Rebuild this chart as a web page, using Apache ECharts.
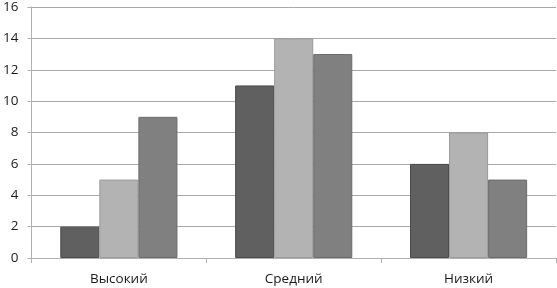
<!DOCTYPE html>
<html>
<head>
<meta charset="utf-8">
<script src="https://cdn.jsdelivr.net/npm/echarts@6/dist/echarts.min.js"></script>
<style>
  html, body { margin: 0; padding: 0; background: #fff; }
  #chart { width: 557px; height: 288px; }
</style>
</head>
<body>
<div id="chart"></div>
<script>
// categories and values
const categories = ['Высокий', 'Средний', 'Низкий']
const series1 = [2, 11, 6]
const series2 = [5, 14, 8]
const series3 = [9, 13, 5]

const colors = ['#606060', '#b3b3b3', '#808080']
const borders = ['#4a4a4a', '#9a9a9a', '#6c6c6c']

const chart = echarts.init(document.getElementById('chart'))

chart.setOption({
  animation: false,
  textStyle: { fontFamily: 'Open Sans' },
  grid: { left: 29, right: 1, top: 5, bottom: 30 },
  xAxis: {
    type: 'category',
    data: categories,
    axisLine: { lineStyle: { color: '#b0b0b0' } },
    axisTick: { show: true, length: 5, lineStyle: { color: '#b0b0b0' } },
    axisLabel: { color: '#1a1a1a', fontSize: 13.5, margin: 14 }
  },
  yAxis: {
    type: 'value',
    min: 0,
    max: 16,
    interval: 2,
    axisLine: { show: true, lineStyle: { color: '#b0b0b0' } },
    axisTick: { show: true, length: 4, lineStyle: { color: '#b0b0b0' } },
    axisLabel: { color: '#1a1a1a', fontSize: 13.5, margin: 13 },
    splitLine: { lineStyle: { color: '#a8a8a8' } }
  },
  series: [series1, series2, series3].map((d, i) => ({
    type: 'bar',
    data: d,
    barGap: '0%',
    barCategoryGap: '33%',
    itemStyle: { color: colors[i], borderColor: borders[i], borderWidth: 1 }
  }))
})
</script>
</body>
</html>
